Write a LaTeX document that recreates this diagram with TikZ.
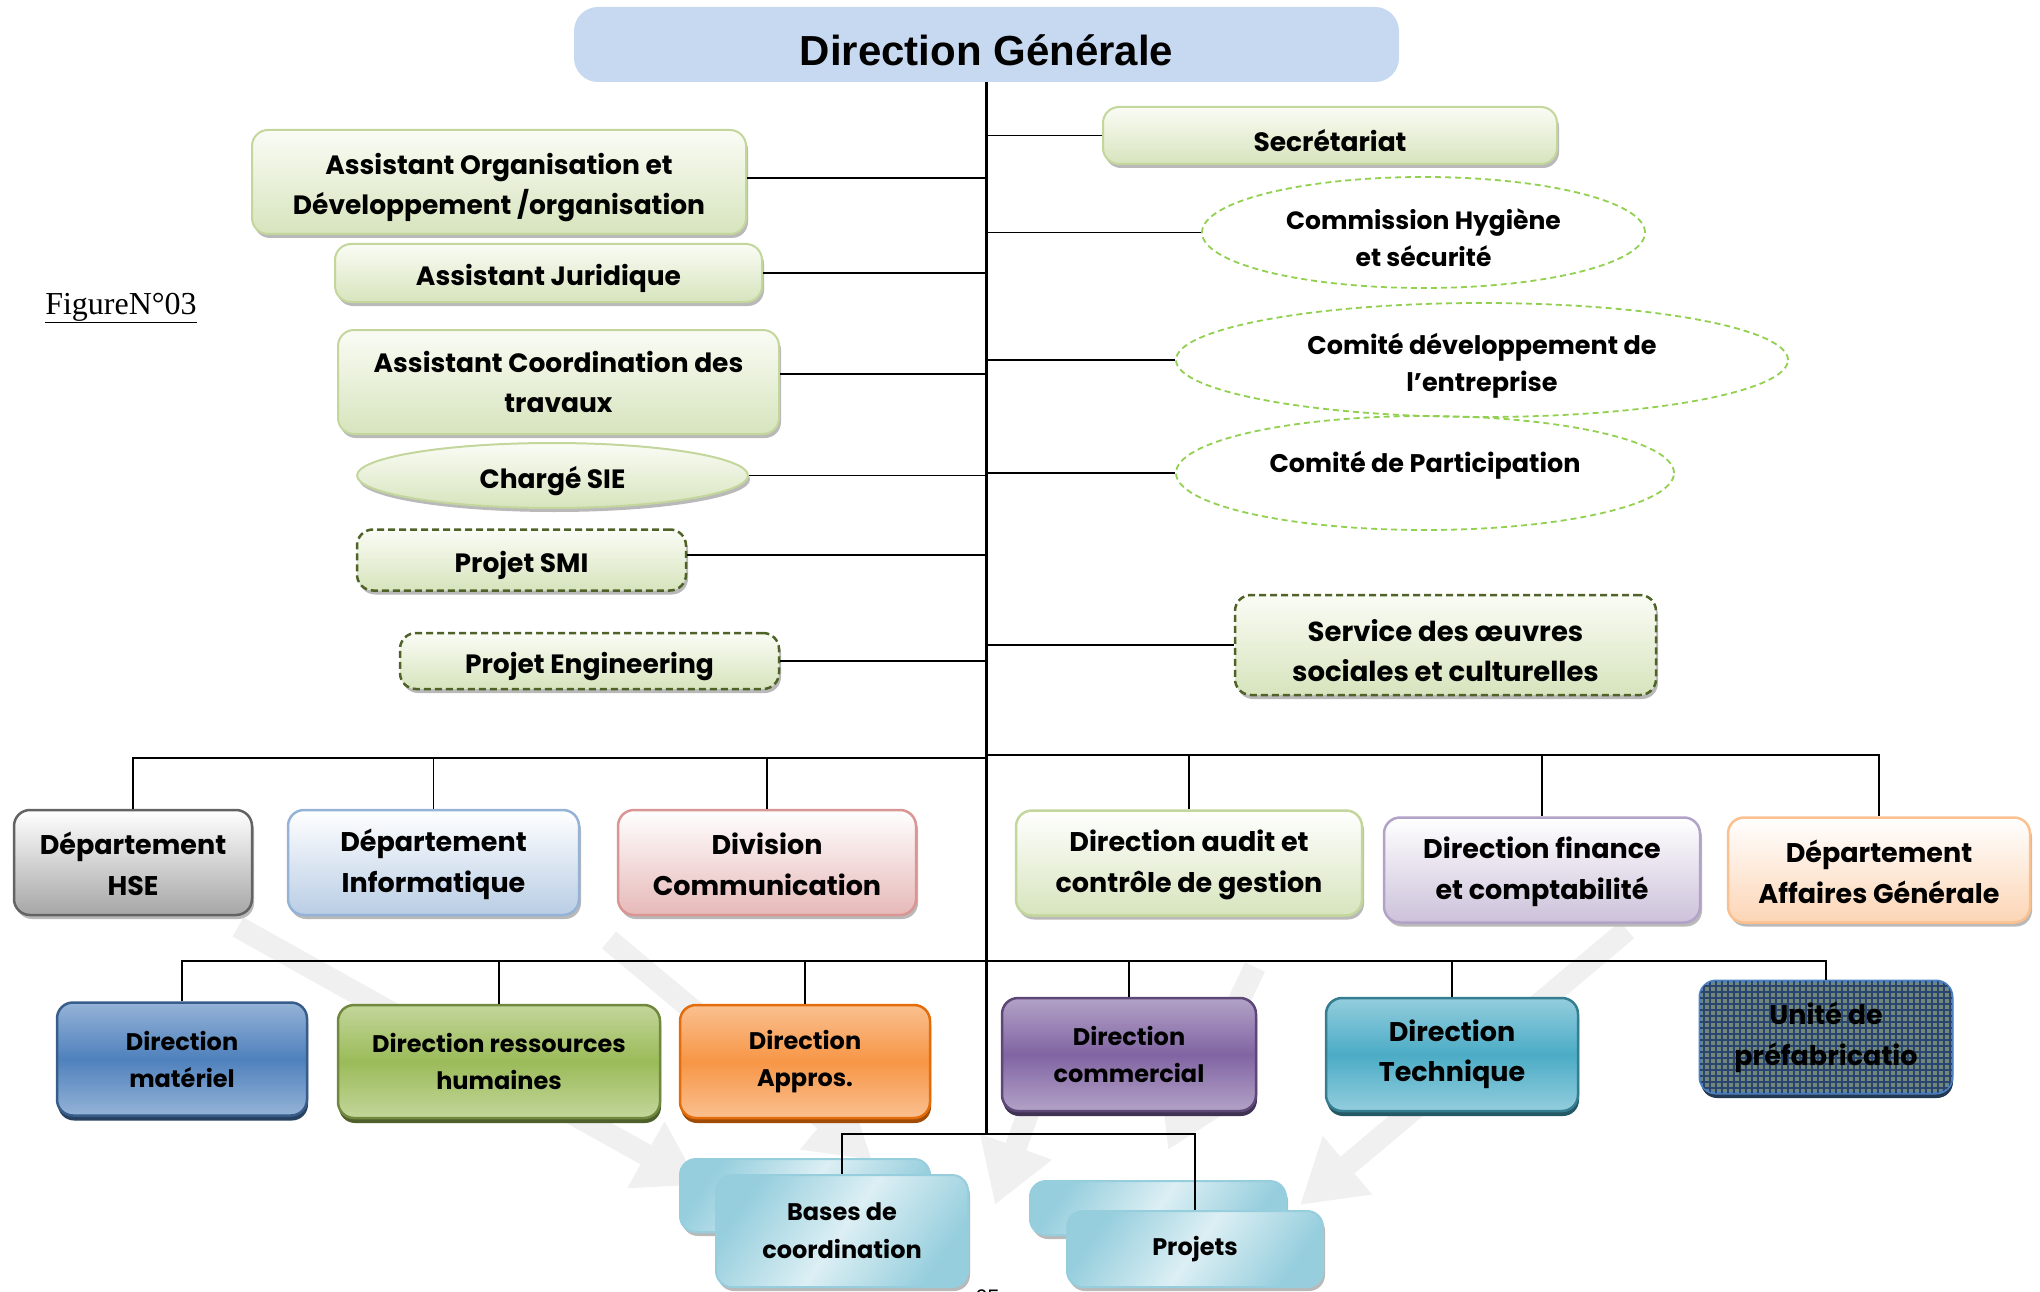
\documentclass[tikz,border=0pt]{standalone}
\usepackage{fontspec}
\setmainfont{Liberation Serif}
\newfontfamily\gothic{Poppins}
\newfontfamily\arialf{Liberation Sans}
\usetikzlibrary{shapes.geometric,shadows,patterns.meta,arrows.meta}

\definecolor{dgblue}{HTML}{C6D9F1}
\definecolor{greenT}{HTML}{FAFCF5}
\definecolor{greenB}{HTML}{D7E4BD}
\definecolor{greenE}{HTML}{C3D69B}
\definecolor{oliveD}{HTML}{4F6228}
\definecolor{limeD}{HTML}{92D050}
\definecolor{grayB}{HTML}{A6A6A6}
\definecolor{grayE}{HTML}{636363}
\definecolor{blueB}{HTML}{B9CDE5}
\definecolor{blueE}{HTML}{95B3D7}
\definecolor{pinkB}{HTML}{E6B9B8}
\definecolor{pinkE}{HTML}{D99694}
\definecolor{lilacB}{HTML}{CCC1DA}
\definecolor{lilacE}{HTML}{B3A2C7}
\definecolor{peachB}{HTML}{FCD5B5}
\definecolor{peachE}{HTML}{FAC090}
\definecolor{matL}{HTML}{95B3D7}
\definecolor{matM}{HTML}{4F81BD}
\definecolor{matE}{HTML}{385D8A}
\definecolor{rhL}{HTML}{C3D69B}
\definecolor{rhM}{HTML}{9BBB59}
\definecolor{rhE}{HTML}{71893F}
\definecolor{appL}{HTML}{FAC090}
\definecolor{appM}{HTML}{F79646}
\definecolor{appE}{HTML}{E46C0A}
\definecolor{comL}{HTML}{B3A2C7}
\definecolor{comM}{HTML}{8064A2}
\definecolor{comE}{HTML}{5C4776}
\definecolor{tecL}{HTML}{93CDDD}
\definecolor{tecM}{HTML}{4BACC6}
\definecolor{tecE}{HTML}{357D91}
\definecolor{uniB}{HTML}{70877A}
\definecolor{uniP}{HTML}{2A4470}
\definecolor{uniE}{HTML}{4F81BD}
\definecolor{cyanL}{HTML}{DCEFF4}
\definecolor{cyanD}{HTML}{96CEDD}
\definecolor{arrowgray}{HTML}{F0F0F0}

\newcommand{\lift}[1]{\rule{0pt}{#1}}

\begin{document}
\begin{tikzpicture}[
    x=1pt, y=-1pt,
    org/.style={rectangle, rounded corners=16pt, align=center, inner sep=0pt, line width=2pt,
        font=\gothic\bfseries\fontsize{26.5}{40}\selectfont},
    lowtext/.style={execute at begin node={\lift{#1}}},
    greyshadow/.style={drop shadow={shadow xshift=2pt, shadow yshift=-4pt, fill=gray!55, opacity=1}},
    titlebox/.style={rectangle, rounded corners=24pt, fill=dgblue, inner sep=0pt, lowtext=43pt,
        minimum width=825pt, minimum height=75pt, font=\arialf\bfseries\fontsize{42}{46}\selectfont},
    softgreen/.style={org, lowtext=33pt, draw=greenE, top color=greenT, bottom color=greenB, greyshadow},
    dashgreen/.style={softgreen, draw=oliveD, line width=2.5pt, dash pattern=on 7pt off 4pt},
    greenoval/.style={ellipse, inner sep=0pt, lowtext=33pt, draw=greenE, line width=2pt, top color=greenT,
        bottom color=greenB, greyshadow, font=\gothic\bfseries\fontsize{26.5}{40}\selectfont},
    dashoval/.style={ellipse, inner sep=0pt, align=center, draw=limeD, line width=1.8pt,
        dash pattern=on 6pt off 4pt, font=\gothic\bfseries\fontsize{25}{37}\selectfont},
    deptbox/.style 2 args={org, line width=2.5pt,
        font=\gothic\bfseries\fontsize{27}{41}\selectfont,
        minimum height=105pt, top color=white, bottom color=#1, draw=#2, greyshadow},
    dirbox/.style n args={3}{org, line width=2.5pt, font=\gothic\bfseries\fontsize{24}{37}\selectfont,
        minimum height=113pt, top color=#1, bottom color=#1, middle color=#2, draw=#3,
        drop shadow={shadow xshift=1pt, shadow yshift=-5pt, fill=#3!70!black, opacity=1}},
    basebox/.style={org, line width=2pt, draw=cyanD, top color=cyanD, bottom color=cyanD,
        middle color=cyanL, shading angle=55, greyshadow,
        font=\gothic\bfseries\fontsize{24}{38}\selectfont},
    link/.style={line width=1.8pt, black},
    trunk/.style={line width=2.6pt, black},
    bgarrow/.style={line width=22pt, arrowgray, -{Triangle[length=62pt, width=72pt]}},
]
    \useasboundingbox (0,0) rectangle (2040,1292);
    \clip (0,0) rectangle (2040,1292);

    % faint background arrows
    \coordinate (a1s) at (238,927);  \coordinate (a1e) at (700,1185);
    \coordinate (a2s) at (609,940);  \coordinate (a2e) at (872,1160);
    \coordinate (a3s) at (1255,967); \coordinate (a3e) at (1168,1150);
    \coordinate (a4s) at (1040,1080); \coordinate (a4e) at (995,1205);
    \coordinate (a5s) at (1627,930); \coordinate (a5e) at (1300,1205);
    \foreach \s/\e in {a1s/a1e, a2s/a2e, a3s/a3e, a4s/a4e, a5s/a5e}
        \draw[bgarrow] (\s) -- (\e);

    % Direction generale
    \node[titlebox] (dg) at (986.5,44.5) {Direction Générale};
    \node[font=\fontsize{32}{36}\selectfont] (fig) at (121,308) {\underline{FigureN°03}};

    % left side
    \node[softgreen, minimum width=494pt, minimum height=104pt] (aod) at (499,182)
        {\lift{33pt}Assistant Organisation et\\Développement /organisation};
    \node[softgreen, minimum width=427pt, minimum height=58pt] (jur) at (548.5,273) {Assistant Juridique};
    \node[softgreen, minimum width=441pt, minimum height=104pt] (coord) at (558.5,382)
        {Assistant Coordination des\\travaux};
    \node[greenoval, minimum width=391pt, minimum height=65pt] (sie) at (552.5,475.5) {Chargé SIE};
    \node[dashgreen, minimum width=329pt, minimum height=61pt] (smi) at (521.5,560) {Projet SMI};
    \node[dashgreen, minimum width=379pt, minimum height=56pt] (eng) at (589.5,661) {Projet Engineering};

    % right side
    \node[softgreen, minimum width=454pt, minimum height=57pt] (sec) at (1330,135.5) {Secrétariat};
    \node[dashoval, minimum width=443pt, minimum height=111pt] (chs) at (1423.5,232.5)
        {\lift{32pt}Commission Hygiène\\et sécurité};
    \node[dashoval, minimum width=612pt, minimum height=114pt, font=\gothic\bfseries\fontsize{25.5}{37}\selectfont]
        (cde) at (1482,360) {\lift{32pt}Comité développement de\\l’entreprise};
    \node[dashoval, minimum width=498pt, minimum height=114pt, font=\gothic\bfseries\fontsize{25.5}{37}\selectfont]
        (cpa) at (1425,473) {\raisebox{22pt}{Comité de Participation}};
    \node[dashgreen, minimum width=421pt, minimum height=100pt, font=\gothic\bfseries\fontsize{27.5}{40}\selectfont]
        (soc) at (1445.5,645) {\lift{34pt}Service des œuvres\\sociales et culturelles};

    % departements
    \node[deptbox={grayB}{grayE}, minimum width=238pt] (hse) at (133,862.5) {\lift{26pt}Département\\HSE};
    \node[deptbox={blueB}{blueE}, minimum width=291pt] (info) at (433.5,862.5)
        {\lift{26pt}Département\\Informatique};
    \node[deptbox={pinkB}{pinkE}, minimum width=298pt] (comm) at (767,862.5)
        {\lift{26pt}Division\\Communication};
    \node[deptbox={greenB}{greenE}, minimum width=346pt] (audit) at (1189,863)
        {\lift{26pt}Direction audit et\\contrôle de gestion};
    \node[deptbox={lilacB}{lilacE}, minimum width=316pt] (fin) at (1542,870)
        {\lift{26pt}Direction finance\\et comptabilité};
    \node[deptbox={peachB}{peachE}, minimum width=302pt] (agen) at (1879,870)
        {\lift{26pt}Département\\Affaires Générale};

    % directions
    \node[dirbox={matL}{matM}{matE}, minimum width=250pt] (mat) at (182,1059) {Direction\\matériel};
    \node[dirbox={rhL}{rhM}{rhE}, minimum width=322pt] (rh) at (499,1061.5) {Direction ressources\\humaines};
    \node[dirbox={appL}{appM}{appE}, minimum width=250pt] (app) at (805,1061.5) {Direction\\Appros.};
    \node[dirbox={comL}{comM}{comE}, minimum width=254pt] (com) at (1129,1054.5) {Direction\\commercial};
    \node[dirbox={tecL}{tecM}{tecE}, minimum width=252pt,
        font=\gothic\bfseries\fontsize{27}{40}\selectfont] (tech) at (1452,1054.5) {Direction\\Technique};
    \node[org, line width=3pt, draw=uniE, fill=uniB, minimum width=252pt, minimum height=112pt,
        font=\gothic\bfseries\fontsize{27}{41}\selectfont,
        drop shadow={shadow xshift=1pt, shadow yshift=-5pt, fill=matE!60!black, opacity=1},
        postaction={pattern={Lines[angle=0, distance=6pt, line width=2pt]}, pattern color=uniP},
        postaction={pattern={Lines[angle=90, distance=6pt, line width=2pt]}, pattern color=uniP}]
        (unit) at (1826,1037) {Unité de\\préfabricatio};

    % bases et projets
    \node[basebox, minimum width=250pt, minimum height=73pt] (bases2) at (805,1195.5) {};
    \node[basebox, minimum width=252pt, minimum height=112pt] (bases) at (842,1231) {Bases de\\coordination};
    \node[basebox, minimum width=256pt, minimum height=54pt] (proj2) at (1158,1208) {};
    \node[basebox, minimum width=256pt, minimum height=76pt] (proj) at (1195,1249) {Projets};
    \node[font=\gothic\fontsize{20}{24}\selectfont] (pagenum) at (988,1297) {25};

    % trunk and buses
    \coordinate (busL) at (986.5,758);
    \coordinate (busR) at (986.5,755);
    \coordinate (busC) at (986.5,961);
    \coordinate (busD) at (986.5,1134);
    \draw[trunk] (dg.south) -- (busD);

    \draw[link] ([yshift=4pt]aod.east) -- ([yshift=4pt]aod.east -| dg.south);
    \draw[link] ([yshift=8pt]coord.east) -- ([yshift=8pt]coord.east -| dg.south);
    \draw[link] ([yshift=5pt]smi.east) -- ([yshift=5pt]smi.east -| dg.south);
    \foreach \n in {jur, sie, eng}
        \draw[link] (\n.east) -- (\n.east -| dg.south);
    \foreach \n in {sec, chs, cde, cpa, soc}
        \draw[link] (\n.west) -- (\n.west -| dg.south);

    \draw[link] (hse.north) |- (busL);
    \draw[link] (info.north) -- (info.north |- busL);
    \draw[link] (comm.north) -- (comm.north |- busL);
    \draw[link] (busR) -| (agen.north);
    \draw[link] (audit.north) -- (audit.north |- busR);
    \draw[link] (fin.north) -- (fin.north |- busR);

    \draw[link] (mat.north) |- (busC);
    \draw[link] (rh.north) -- (rh.north |- busC);
    \draw[link] (app.north) -- (app.north |- busC);
    \draw[link] (busC) -| (unit.north);
    \draw[link] (com.north) -- (com.north |- busC);
    \draw[link] (tech.north) -- (tech.north |- busC);

    \draw[link] (busD) -| (bases.north);
    \draw[link] (busD) -| (proj.north);
\end{tikzpicture}
\end{document}
